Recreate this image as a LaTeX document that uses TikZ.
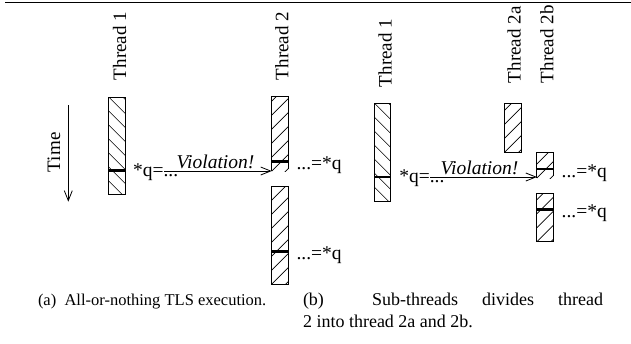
\documentclass[tikz,border=0pt]{standalone}
\usepackage{fontspec}
\setmainfont{Liberation Serif}
\usetikzlibrary{arrows.meta}
\tikzset{
  thr/.style={rectangle, inner sep=0pt, outer sep=0pt, minimum width=16.5pt, line width=0.9pt},
  hatchline/.style={line width=0.7pt},
  fwd/.style={path picture={\foreach \k in {-3,...,9}{\draw[hatchline] (path picture bounding box.south west) ++(0pt,\k*14pt) -- ++(40pt,40pt);}}},
  bwd/.style={path picture={\foreach \k in {-3,...,9}{\draw[hatchline] (path picture bounding box.north west) ++(0pt,-\k*14pt) -- ++(40pt,-40pt);}}},
  boxedge/.style={line width=0.9pt},
  bar/.style={line width=2.8pt},
  lbl/.style={font=\fontsize{19.5}{22}\selectfont, inner sep=0pt, outer sep=0pt},
  tlbl/.style={lbl, font=\fontsize{19}{22}\selectfont, rotate=90, anchor=base west},
  captext/.style={font=\fontsize{18}{22}\selectfont, inner sep=0pt, outer sep=0pt, anchor=base west},
  varrow/.style={-{Straight Barb[length=10pt,width=8pt]}, line width=0.8pt},
}
\begin{document}
\begin{tikzpicture}[x=1pt,y=-1pt]
\useasboundingbox (0,0) rectangle (631,343);
% top rule
\coordinate (r1) at (5,2.5);
\coordinate (r2) at (631,2.5);
\draw[line width=1.2pt] (r1) -- (r2);

% ---------------- (a) ----------------
\node[tlbl] (la1) at (126,80) {Thread 1};
\node[tlbl] (la2) at (288.3,80) {Thread 2};
\node[tlbl] (time) at (60,172) {Time};
\coordinate (ts) at (68.3,105);
\coordinate (te) at (68.3,201.7);
\draw[varrow] (ts) -- (te);

\node[thr,draw,bwd,minimum height=97pt] (t1a) at (117,145.5) {};
\draw[bar] ([yshift=-25pt]t1a.west) -- ([yshift=-25pt]t1a.east);

\node[thr,fwd,minimum height=74.5pt] (t2a) at (280,133.75) {};
\draw[boxedge] (t2a.south west) -- (t2a.north west) -- (t2a.north east) -- ([yshift=2pt]t2a.south east);
\draw[bar] ([yshift=-27.75pt]t2a.west) -- ([yshift=-27.75pt]t2a.east);

\node[thr,draw,fwd,minimum height=97.3pt] (t2b) at (280,235.35) {};
\draw[bar] ([yshift=-16.35pt]t2b.west) -- ([yshift=-16.35pt]t2b.east);

\node[lbl,anchor=base west] (qa) at (133,176) {*q=...};
\node[lbl,anchor=base west] (vla) at (176.7,168) {\itshape Violation!};
\coordinate (va) at (164,171);
\draw[varrow] (va) -- (t2a.west |- va);
\node[lbl,anchor=base west] (ra1) at (296.5,169.5) {...=*q};
\node[lbl,anchor=base west] (ra2) at (296.5,259.7) {...=*q};

% ---------------- (b) ----------------
\node[tlbl] (lb1) at (391.5,87) {Thread 1};
\node[tlbl] (lb2a) at (520.5,83) {Thread 2a};
\node[tlbl] (lb2b) at (553.3,83) {Thread 2b};

\node[thr,draw,bwd,minimum height=98pt] (t1b) at (382.5,152) {};
\draw[bar] ([yshift=-25pt]t1b.west) -- ([yshift=-25pt]t1b.east);

\node[thr,draw,fwd,minimum height=49pt] (t2ab) at (512.75,127.8) {};

\node[thr,fwd,minimum height=25.5pt] (t2bu) at (545.15,165.25) {};
\draw[boxedge] (t2bu.south west) -- (t2bu.north west) -- (t2bu.north east) -- ([yshift=2pt]t2bu.south east);
\draw[bar] ([yshift=-3.75pt]t2bu.west) -- ([yshift=-3.75pt]t2bu.east);

\node[thr,draw,fwd,minimum height=48.4pt] (t2bl) at (545.15,217.5) {};
\draw[bar] ([yshift=8.2pt]t2bl.west) -- ([yshift=8.2pt]t2bl.east);

\node[lbl,anchor=base west] (qb) at (399.3,182) {*q=...};
\node[lbl,anchor=base west] (vlb) at (440.7,174) {\itshape Violation!};
\coordinate (vb) at (430,177);
\draw[varrow] (vb) -- (t2bu.west |- vb);
\node[lbl,anchor=base west] (rb1) at (561.7,177) {...=*q};
\node[lbl,anchor=base west] (rb2) at (561.7,217.5) {...=*q};

% captions
\node[captext,font=\fontsize{16.5}{22}\selectfont] (capa) at (38,305) {(a)\ \ All-or-nothing TLS execution.};
\node[captext] (capb1) at (303,305) {\makebox[300pt][s]{(b)\ \ Sub-threads divides thread}};
\node[captext] (capb2) at (303,327) {2 into thread 2a and 2b.};
\end{tikzpicture}
\end{document}
